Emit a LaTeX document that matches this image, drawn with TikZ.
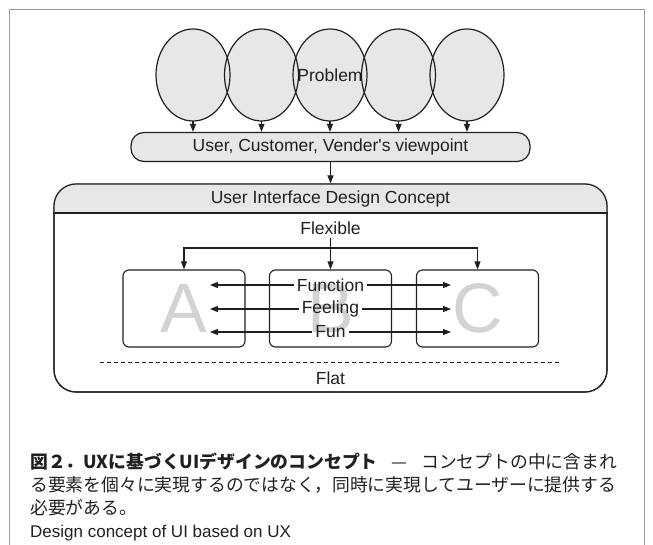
\documentclass[tikz,border=0pt]{standalone}
\usepackage{fontspec}
\setmainfont{Liberation Sans}
\newfontfamily\cjk{Noto Sans CJK JP}
\usetikzlibrary{arrows.meta,shapes.geometric}

\definecolor{panel}{HTML}{E6E7E8}
\definecolor{ink}{HTML}{231F20}
\definecolor{ghost}{HTML}{D1D3D4}
\definecolor{framegray}{HTML}{9C9C9C}

\tikzset{
  base/.style={font=\fontsize{17.5}{20}\selectfont, text=ink},
  arr/.style={draw=ink, line width=1.1pt, -{Triangle[length=8pt,width=6pt]}},
  bubble/.style={ellipse, fill=panel, minimum width=74pt, minimum height=92pt, inner sep=0pt},
  pill/.style={base, draw=ink, fill=panel, line width=1.2pt, rounded corners=13pt,
    minimum width=399pt, minimum height=29pt, inner sep=0pt},
  concept/.style={draw=ink, line width=1.2pt, rounded corners=22pt,
    minimum width=553pt, minimum height=208pt, inner sep=0pt},
  cell/.style={draw=ink, line width=1.1pt, rounded corners=6pt,
    minimum width=122pt, minimum height=77pt, inner sep=0pt},
  letter/.style={text=ghost, font=\fontsize{70}{70}\selectfont, inner sep=0pt},
  tag/.style={base, inner xsep=3pt, inner ysep=0pt},
  caption/.style={anchor=base west, inner sep=0pt, text=ink},
  captext/.style={font=\cjk\fontsize{17.8}{23}\selectfont},
}

\begin{document}
\begin{tikzpicture}[x=1pt, y=-1pt]
  \useasboundingbox (0,0) rectangle (653,545);

  % page frame, open at the bottom
  \draw[framegray, line width=0.8pt] (9,545) -- (9,9) -- (644,9) -- (644,545);

  % row of problem bubbles
  \foreach \i/\x in {1/193,2/261.5,3/330,4/398.5,5/467}
    \node[bubble] (c\i) at (\x,75) {};
  \foreach \i in {1,...,5}
    \draw[ink, line width=1.2pt] (c\i.center) ellipse[x radius=37pt, y radius=46pt];
  \node[base] (problem) at (c3) {Problem};

  % viewpoint bar
  \node[pill] (view) at (330.5,147) {User, Customer, Vender\textquotesingle s viewpoint};
  \foreach \i in {1,...,5}
    \draw[arr] (c\i) -- (c\i |- view.north);

  % design concept panel with grey header
  \node[concept] (concept) at (330.5,288) {};
  \begin{scope}
    \clip[rounded corners=22pt] (concept.north west) rectangle (concept.south east);
    \fill[panel] (concept.north west) rectangle (concept.east |- 0,213);
  \end{scope}
  \draw[ink, line width=1.2pt] (concept.west |- 0,213) -- (concept.east |- 0,213);
  \node[concept] at (concept) {};
  \node[base] (title) at (330.5,199) {User Interface Design Concept};
  \draw[arr] (view) -- (concept);

  % the three elements
  \node[cell] (A) at (184,308.5) {};
  \node[cell] (B) at (330.5,308.5) {};
  \node[cell] (C) at (477.5,308.5) {};
  \node[letter] at (A) {A};
  \node[letter] at (B) {B};
  \node[letter] at (C) {C};

  % flexible: one source feeding all three
  \node[base] (flex) at (330.5,228) {Flexible};
  \coordinate (fork) at (330.5,248);
  \draw[arr] (flex) -- (B);
  \draw[arr] (fork) -| (A);
  \draw[arr] (fork) -| (C);

  % shared qualities running across the elements
  \foreach \n/\t/\y in {fn/Function/285, fe/Feeling/309, fu/Fun/332}{
    \coordinate (\n L) at (210,\y);
    \coordinate (\n R) at (451,\y);
    \node[tag] (\n) at (330.5,\y) {\t};
    \draw[arr] (\n) -- (\n L);
    \draw[arr] (\n) -- (\n R);
  }

  % flat
  \draw[ink, line width=0.9pt, dash pattern=on 4pt off 3pt] (100,362) -- (560,362);
  \node[base] (flat) at (330.5,378) {Flat};

  % caption
  \node[caption, captext] (cap1) at (30,468) {\makebox[587pt][s]{%
    {\bfseries 図２．UXに基づくUIデザインのコンセプト}\hfill—\hfill コンセプトの中に含まれ}};
  \node[caption, captext] (cap2) at (30,491)
    {る要素を個々に実現するのではなく，同時に実現してユーザーに提供する};
  \node[caption, captext] (cap3) at (30,514) {必要がある。};
  \node[caption, font=\fontsize{17}{20}\selectfont] (cap4) at (30,537)
    {Design concept of UI based on UX};
\end{tikzpicture}
\end{document}
